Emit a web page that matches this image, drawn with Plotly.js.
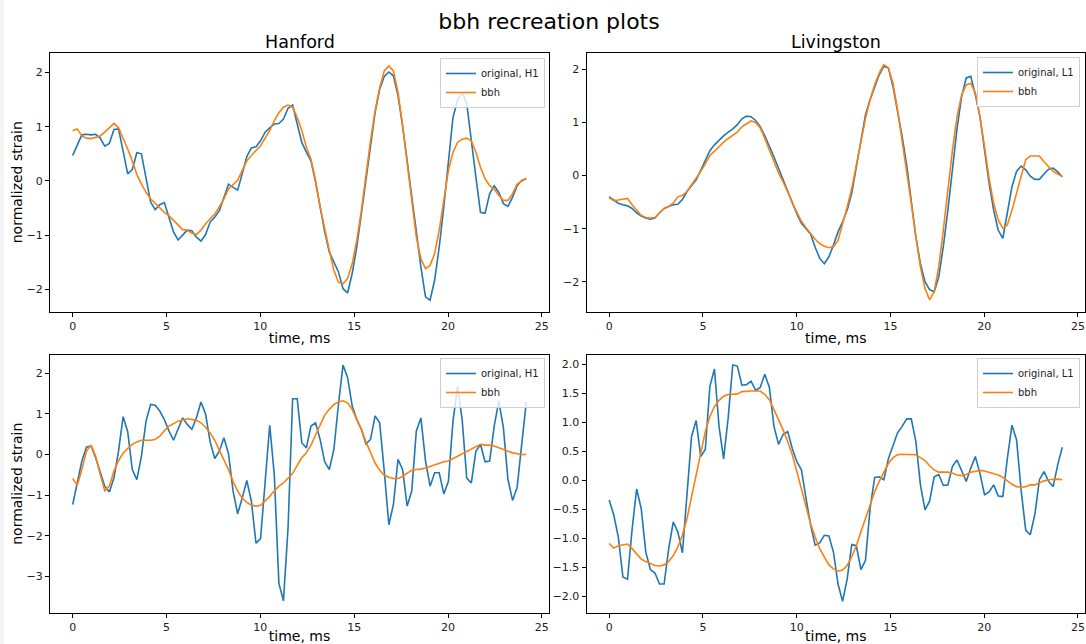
<!DOCTYPE html>
<html>
<head>
<meta charset="utf-8">
<script src="https://cdn.plot.ly/plotly-3.0.1.min.js"></script>
<style>html,body{margin:0;padding:0;background:#fff;}#chart{width:1086px;height:644px;}</style>
</head>
<body>
<div id="chart"></div>
<script>
// time axis (ms), sample spacing 1/4096 s
const time_ms = [0.000,0.244,0.488,0.732,0.977,1.221,1.465,1.709,1.953,2.197,2.441,2.686,2.930,3.174,3.418,3.662,3.906,4.150,4.395,4.639,4.883,5.127,5.371,5.615,5.859,6.104,6.348,6.592,6.836,7.080,7.324,7.568,7.813,8.057,8.301,8.545,8.789,9.033,9.277,9.521,9.766,10.010,10.254,10.498,10.742,10.986,11.230,11.475,11.719,11.963,12.207,12.451,12.695,12.939,13.184,13.428,13.672,13.916,14.160,14.404,14.648,14.893,15.137,15.381,15.625,15.869,16.113,16.357,16.602,16.846,17.090,17.334,17.578,17.822,18.066,18.311,18.555,18.799,19.043,19.287,19.531,19.775,20.020,20.264,20.508,20.752,20.996,21.240,21.484,21.729,21.973,22.217,22.461,22.705,22.949,23.193,23.438,23.682,23.926,24.170];

const h1_original_top = [0.47,0.66,0.85,0.86,0.85,0.86,0.79,0.64,0.69,0.95,
 0.96,0.55,0.13,0.21,0.52,0.50,0.02,-0.39,-0.53,-0.44,
 -0.40,-0.65,-0.94,-1.09,-0.99,-0.91,-0.92,-1.04,-1.11,-0.99,
 -0.76,-0.67,-0.55,-0.30,-0.06,-0.12,-0.17,0.13,0.45,0.61,
 0.63,0.74,0.90,0.98,1.05,1.06,1.14,1.34,1.40,1.05,
 0.71,0.53,0.37,-0.02,-0.48,-0.94,-1.31,-1.50,-1.68,-1.99,
 -2.07,-1.71,-1.22,-0.61,0.04,0.68,1.26,1.69,1.93,2.01,
 1.94,1.57,1.02,0.37,-0.30,-1.01,-1.59,-2.14,-2.20,-1.83,
 -1.22,-0.48,0.31,1.17,1.49,1.63,1.43,0.80,0.07,-0.58,
 -0.60,-0.24,-0.09,-0.21,-0.42,-0.47,-0.30,-0.09,0.01,0.04];

const h1_bbh_top = [0.93,0.96,0.83,0.79,0.78,0.80,0.83,0.90,0.99,1.06,
 0.98,0.79,0.59,0.37,0.12,-0.06,-0.21,-0.33,-0.42,-0.50,
 -0.58,-0.64,-0.73,-0.82,-0.90,-0.91,-0.96,-0.99,-0.91,-0.79,
 -0.70,-0.61,-0.48,-0.33,-0.15,-0.06,0.01,0.19,0.37,0.47,
 0.56,0.65,0.79,0.93,1.11,1.26,1.36,1.40,1.36,1.17,
 0.93,0.62,0.40,0.01,-0.48,-0.91,-1.28,-1.65,-1.87,-1.90,
 -1.80,-1.53,-1.10,-0.55,0.10,0.74,1.29,1.72,2.03,2.12,
 2.03,1.63,1.02,0.34,-0.36,-1.04,-1.44,-1.62,-1.56,-1.34,
 -0.91,-0.36,0.19,0.53,0.71,0.77,0.79,0.74,0.53,0.25,
 0.04,-0.09,-0.15,-0.27,-0.36,-0.36,-0.24,-0.06,-0.01,0.05];

const l1_original_top = [-0.40,-0.46,-0.52,-0.55,-0.57,-0.62,-0.70,-0.76,-0.80,-0.82,
 -0.80,-0.70,-0.62,-0.58,-0.55,-0.54,-0.45,-0.30,-0.18,-0.08,
 0.10,0.30,0.47,0.58,0.67,0.75,0.82,0.88,0.96,1.07,
 1.12,1.11,1.04,0.92,0.75,0.56,0.35,0.14,-0.08,-0.28,
 -0.52,-0.72,-0.90,-1.00,-1.10,-1.35,-1.56,-1.66,-1.53,-1.31,
 -1.06,-0.87,-0.65,-0.33,0.17,0.67,1.15,1.43,1.68,1.90,
 2.06,2.03,1.68,1.24,0.74,0.20,-0.52,-1.15,-1.66,-2.00,
 -2.15,-2.19,-1.91,-1.34,-0.65,0.17,0.89,1.49,1.84,1.87,
 1.52,1.11,0.48,-0.14,-0.65,-1.03,-1.18,-0.71,-0.21,0.08,
 0.18,0.11,-0.01,-0.07,-0.07,0.03,0.12,0.14,0.07,-0.02];

const l1_bbh_top = [-0.42,-0.47,-0.46,-0.44,-0.43,-0.55,-0.65,-0.75,-0.79,-0.80,
 -0.79,-0.70,-0.62,-0.58,-0.52,-0.40,-0.37,-0.30,-0.18,-0.05,
 0.08,0.22,0.38,0.46,0.55,0.63,0.70,0.76,0.82,0.92,
 0.98,1.03,1.00,0.90,0.70,0.48,0.26,0.05,-0.12,-0.30,
 -0.52,-0.70,-0.86,-0.98,-1.10,-1.20,-1.28,-1.33,-1.36,-1.34,
 -1.22,-0.93,-0.59,-0.24,0.20,0.67,1.08,1.43,1.71,1.93,
 2.09,2.03,1.74,1.24,0.67,0.11,-0.52,-1.15,-1.72,-2.13,
 -2.34,-2.19,-1.72,-1.03,-0.27,0.48,1.11,1.52,1.71,1.74,
 1.56,1.11,0.55,-0.05,-0.52,-0.84,-0.99,-0.93,-0.65,-0.33,
 0.01,0.30,0.37,0.37,0.37,0.26,0.16,0.08,0.03,-0.02];

const h1_original_bottom = [-1.23,-0.66,-0.16,0.18,0.21,-0.08,-0.45,-0.78,-0.92,-0.58,
 0.08,0.93,0.56,-0.37,-0.62,-0.04,0.82,1.23,1.21,1.07,
 0.86,0.58,0.35,0.62,0.90,0.74,0.62,0.90,1.29,1.00,
 0.31,-0.10,0.08,0.41,0.02,-0.90,-1.46,-1.07,-0.64,-1.15,
 -2.18,-2.07,-0.66,0.72,-0.50,-3.17,-3.60,-1.81,1.37,1.37,
 0.29,0.16,0.70,0.78,0.37,-0.18,-0.37,0.12,1.23,2.20,
 1.89,1.19,0.86,0.62,0.26,0.37,0.95,0.78,-0.41,-1.73,
 -1.23,-0.12,-0.37,-1.27,-0.90,0.58,0.90,-0.16,-0.78,-0.45,
 -0.45,-0.97,-0.66,0.82,1.67,0.86,-0.58,-0.70,0.08,0.25,
 -0.18,-0.16,0.70,1.32,0.66,-0.62,-1.13,-0.81,0.25,1.29];

const h1_bbh_bottom = [-0.59,-0.76,-0.37,0.08,0.23,-0.04,-0.49,-0.89,-0.78,-0.41,
 -0.15,0.03,0.15,0.25,0.31,0.35,0.35,0.35,0.37,0.45,
 0.58,0.70,0.76,0.82,0.85,0.88,0.86,0.84,0.78,0.67,
 0.53,0.35,0.10,-0.12,-0.37,-0.66,-0.90,-1.07,-1.18,-1.25,
 -1.27,-1.25,-1.15,-1.03,-0.90,-0.78,-0.70,-0.59,-0.47,-0.27,
 -0.08,0.04,0.23,0.48,0.74,0.97,1.11,1.23,1.29,1.32,
 1.27,1.11,0.86,0.62,0.31,0.07,-0.21,-0.39,-0.51,-0.56,
 -0.59,-0.59,-0.54,-0.46,-0.39,-0.37,-0.36,-0.33,-0.29,-0.25,
 -0.21,-0.18,-0.16,-0.10,-0.04,0.02,0.08,0.15,0.21,0.25,
 0.23,0.23,0.21,0.16,0.12,0.08,0.04,0.02,0.00,0.00];

const l1_original_bottom = [-0.34,-0.60,-0.98,-1.67,-1.71,-0.85,-0.15,-0.49,-1.24,-1.54,
 -1.60,-1.79,-1.79,-1.18,-0.72,-0.89,-1.25,-0.25,0.76,1.03,
 0.41,0.53,1.62,1.92,0.93,0.37,1.08,1.99,1.97,1.64,
 1.65,1.71,1.55,1.60,1.83,1.60,0.93,0.62,0.79,0.84,
 0.55,0.32,0.18,-0.31,-0.77,-1.12,-1.08,-0.95,-0.96,-1.24,
 -1.79,-2.09,-1.70,-1.11,-1.13,-1.54,-1.38,-0.49,0.05,0.06,
 0.01,0.37,0.61,0.82,0.93,1.06,1.06,0.67,-0.08,-0.51,
 -0.36,0.06,0.10,-0.09,-0.08,0.24,0.35,0.15,-0.02,0.21,
 0.41,0.12,-0.25,-0.20,-0.08,-0.27,-0.28,0.38,0.95,0.70,
 -0.17,-0.86,-0.94,-0.59,0.01,0.15,-0.02,-0.11,0.27,0.57];

const l1_bbh_bottom = [-1.09,-1.17,-1.13,-1.11,-1.10,-1.18,-1.27,-1.36,-1.40,-1.44,
 -1.47,-1.48,-1.46,-1.40,-1.30,-1.15,-0.95,-0.66,-0.28,0.12,
 0.50,0.84,1.10,1.27,1.38,1.45,1.48,1.48,1.49,1.53,
 1.54,1.54,1.54,1.54,1.48,1.39,1.22,1.05,0.87,0.67,
 0.44,0.15,-0.14,-0.46,-0.75,-0.98,-1.18,-1.32,-1.46,-1.53,
 -1.57,-1.55,-1.47,-1.32,-1.13,-0.89,-0.66,-0.43,-0.20,-0.02,
 0.15,0.29,0.39,0.44,0.45,0.45,0.44,0.44,0.39,0.34,
 0.25,0.18,0.14,0.14,0.14,0.12,0.09,0.08,0.10,0.14,
 0.16,0.17,0.16,0.14,0.12,0.09,0.05,-0.01,-0.07,-0.11,
 -0.12,-0.11,-0.08,-0.08,-0.04,-0.01,0.01,0.02,0.02,0.01];

const x_ticks = [0, 5, 10, 15, 20, 25];
const y_ticks_bottom_right = [-2.0, -1.5, -1.0, -0.5, 0.0, 0.5, 1.0, 1.5, 2.0];
const panel_titles = ["Hanford", "Livingston"];
const main_title = "bbh recreation plots";
const x_label = "time, ms";
const y_label = "normalized strain";

const BLUE = '#1f77b4', ORANGE = '#ff7f0e';
const W = 1086, H = 644;
const FONT = 'DejaVu Sans, Liberation Sans, sans-serif';

function trace(y, name, color, xa, ya, leg) {
  return {x: time_ms, y: y, name: name, type: 'scatter', mode: 'lines',
    line: {color: color, width: 1.6}, xaxis: xa, yaxis: ya, legend: leg};
}

const data = [
  trace(h1_original_top, 'original, H1', BLUE, 'x', 'y', 'legend'),
  trace(h1_bbh_top, 'bbh', ORANGE, 'x', 'y', 'legend'),
  trace(l1_original_top, 'original, L1', BLUE, 'x2', 'y2', 'legend2'),
  trace(l1_bbh_top, 'bbh', ORANGE, 'x2', 'y2', 'legend2'),
  trace(h1_original_bottom, 'original, H1', BLUE, 'x3', 'y3', 'legend3'),
  trace(h1_bbh_bottom, 'bbh', ORANGE, 'x3', 'y3', 'legend3'),
  trace(l1_original_bottom, 'original, L1', BLUE, 'x4', 'y4', 'legend4'),
  trace(l1_bbh_bottom, 'bbh', ORANGE, 'x4', 'y4', 'legend4')
];

function px(x) { return x / W; }
function py(y) { return 1 - y / H; }

const common = {showline: true, mirror: true, linecolor: '#000', linewidth: 1,
  ticks: 'outside', ticklen: 4, tickwidth: 1, tickcolor: '#000',
  showgrid: false, zeroline: false, tickfont: {family: FONT, size: 11, color: '#222'}};

function xax(d0, d1, anchor) {
  return Object.assign({}, common, {domain: [px(d0), px(d1)], anchor: anchor,
    range: [-1.21, 25.38], tickvals: x_ticks, ticktext: x_ticks.map(String),
    title: {text: x_label, font: {family: FONT, size: 14, color: '#000'}, standoff: 0}});
}
function yax(t, b, anchor, range, withTitle, extra) {
  const o = Object.assign({}, common, {domain: [py(b), py(t)], anchor: anchor, range: range});
  if (withTitle) o.title = {text: y_label, font: {family: FONT, size: 14, color: '#000'}, standoff: 0};
  return Object.assign(o, extra || {});
}

function leg(xr, yt) {
  return {x: px(xr), y: py(yt), xanchor: 'right', yanchor: 'top',
    bgcolor: 'rgba(255,255,255,0.8)', bordercolor: '#d0d0d0', borderwidth: 1,
    font: {family: FONT, size: 10, color: '#222'}, itemwidth: 30, tracegroupgap: 0};
}

const layout = {
  width: W, height: H, margin: {l: 0, r: 0, t: 0, b: 0},
  paper_bgcolor: '#fff', plot_bgcolor: '#fff', font: {family: FONT},
  title: {text: main_title, x: px(549), xanchor: 'center', y: py(21), yanchor: 'middle',
    font: {family: FONT, size: 22, color: '#000'}},
  xaxis: xax(50, 549, 'y'),
  xaxis2: xax(586.5, 1085, 'y2'),
  xaxis3: xax(50, 549, 'y3'),
  xaxis4: xax(586.5, 1085, 'y4'),
  yaxis: yax(52.5, 312, 'x', [-2.42, 2.37], true),
  yaxis2: yax(52.5, 312, 'x2', [-2.57, 2.32], false),
  yaxis3: yax(354.5, 613, 'x3', [-3.90, 2.46], true),
  yaxis4: yax(354.5, 613, 'x4', [-2.29, 2.17], false,
    {tickvals: y_ticks_bottom_right, ticktext: y_ticks_bottom_right.map(v => v.toFixed(1).replace('-', '\u2212'))}),
  legend: leg(545, 58),
  legend2: leg(1080, 57),
  legend3: leg(545, 358),
  legend4: leg(1080, 358),
  annotations: [
    {text: panel_titles[0], xref: 'paper', yref: 'paper', x: px(299.5), y: py(42), xanchor: 'center', yanchor: 'middle', showarrow: false, font: {family: FONT, size: 17.5, color: '#000'}},
    {text: panel_titles[1], xref: 'paper', yref: 'paper', x: px(836), y: py(42), xanchor: 'center', yanchor: 'middle', showarrow: false, font: {family: FONT, size: 17.5, color: '#000'}}
  ],
  shapes: [
    {type: 'rect', xref: 'paper', yref: 'paper', x0: 0, x1: px(4), y0: 0, y1: 1, fillcolor: '#f5f5f5', line: {width: 0}, layer: 'below'}
  ],
  showlegend: true
};

Plotly.newPlot('chart', data, layout, {displayModeBar: false, staticPlot: true});
</script>
</body>
</html>
